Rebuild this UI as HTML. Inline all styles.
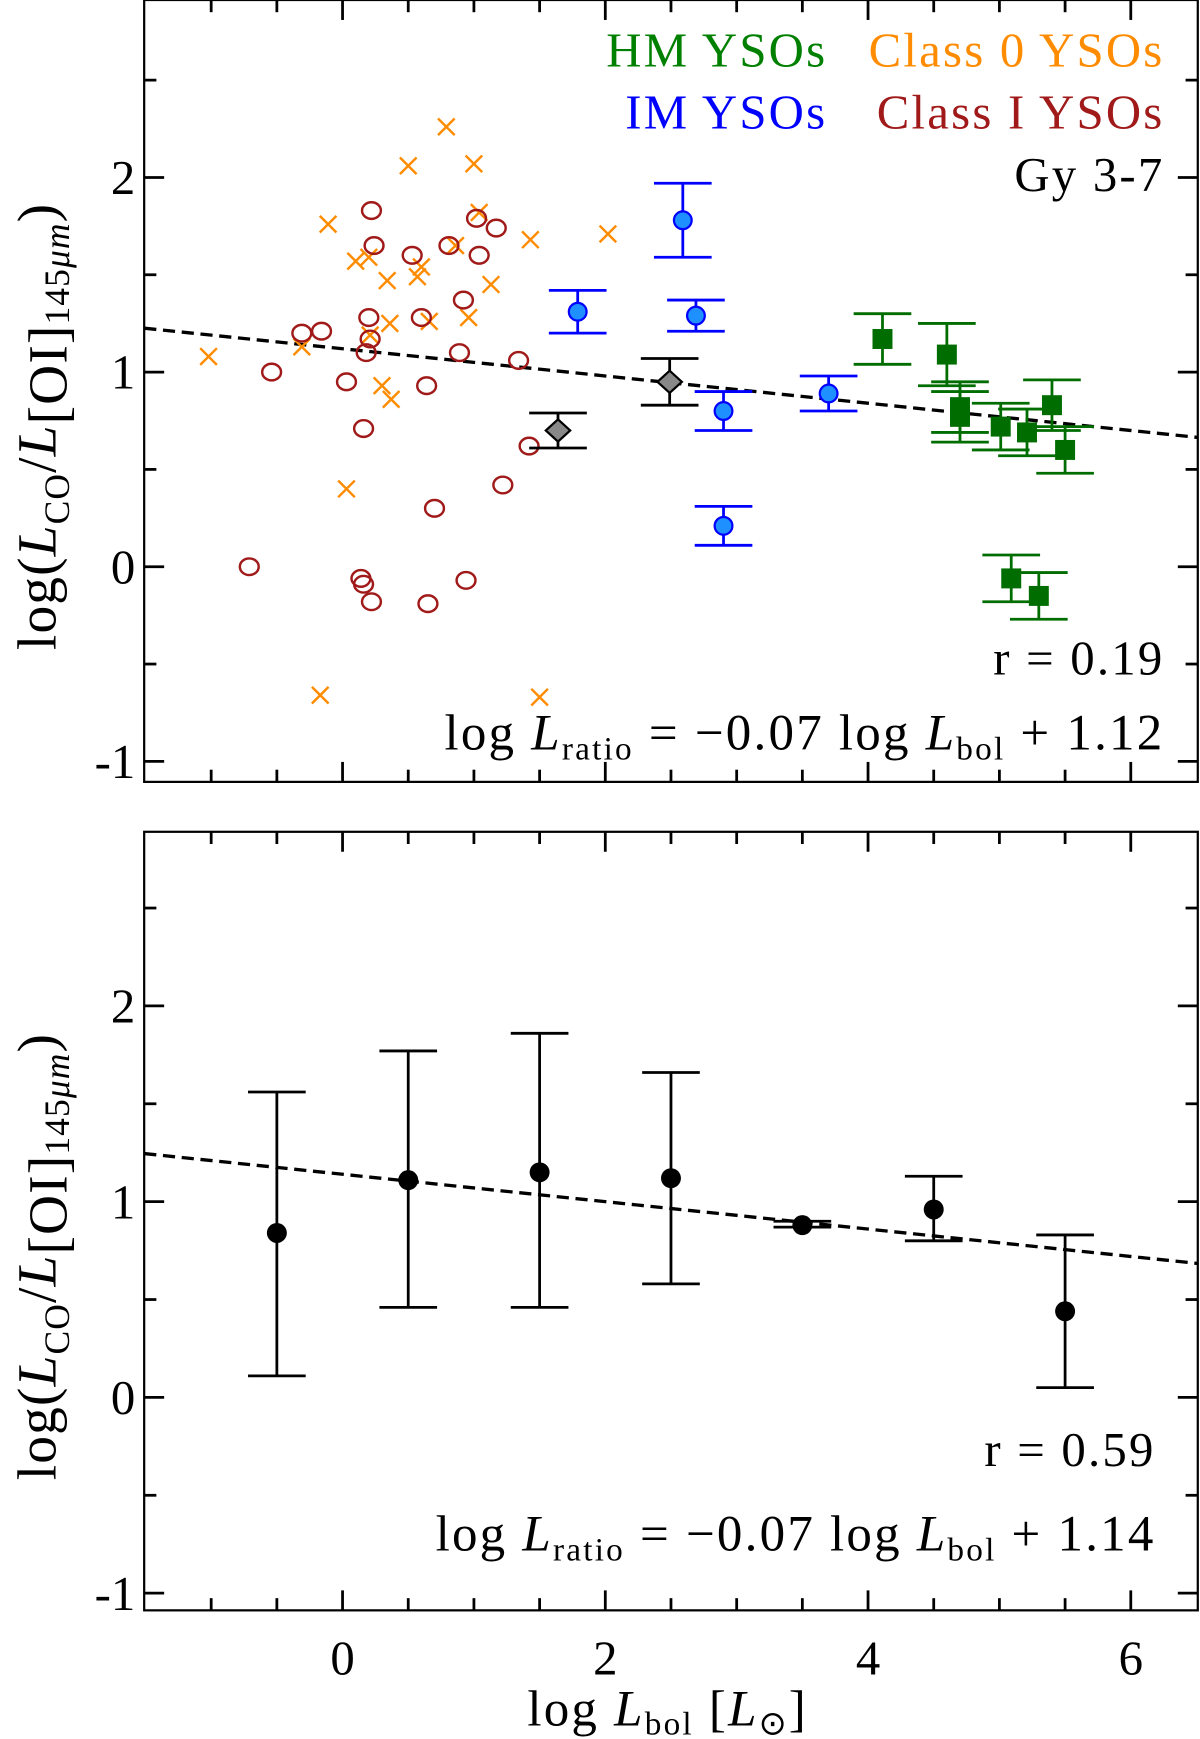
<!DOCTYPE html>
<html><head><meta charset="utf-8"><style>
html,body{margin:0;padding:0;background:#fff}
svg{display:block}
text{font-family:"Liberation Serif",serif}
</style></head><body>
<svg id="chart" xmlns="http://www.w3.org/2000/svg" width="1200" height="1739" viewBox="0 0 1082 1568">
<g id="top"></g>
<g id="bot"></g>
</svg>
<script>
// ---- data (top panel) ----
const class0X = [-1.02,-0.31,-0.11,0.03,-0.17,0.10,0.20,0.34,0.36,0.30,0.37,0.50,0.60,0.57,0.66,0.79,0.86,1.00,0.96,1.04,1.13,1.43,1.50,2.02,0.21];
const class0Y = [1.08,1.13,1.76,0.40,-0.66,1.57,1.59,1.47,1.25,0.93,0.86,2.06,1.54,1.49,1.26,2.26,1.65,2.07,1.28,1.82,1.45,1.68,-0.67,1.71,1.19];
const class1X = [-0.71,-0.54,-0.31,-0.16,0.03,0.14,0.16,0.22,0.16,0.18,0.20,0.21,0.22,0.24,0.53,0.60,0.64,0.70,0.81,0.89,0.92,0.94,0.65,1.02,1.04,1.17,1.22,1.34,1.42];
const class1Y = [0.00,1.00,1.20,1.21,0.95,-0.06,-0.09,-0.18,0.71,1.10,1.28,1.17,1.83,1.65,1.60,1.28,0.93,0.30,1.65,1.10,1.37,-0.07,-0.19,1.79,1.60,1.74,0.42,1.06,0.62];
const hmX = [4.11,4.60,4.70,4.70,5.01,5.21,5.40,5.50,5.09,5.30];
const hmY = [1.17,1.09,0.82,0.77,0.72,0.69,0.83,0.60,-0.06,-0.15];
const hmErr = [0.13,0.16,0.13,0.13,0.12,0.12,0.13,0.12,0.12,0.12];
const imX = [1.79,2.59,2.69,2.90,2.90,3.70];
const imY = [1.31,1.78,1.29,0.80,0.21,0.89];
const imErr = [0.11,0.19,0.08,0.10,0.10,0.09];
const gyX = [1.64,2.49];
const gyY = [0.70,0.95];
const gyErr = [0.09,0.12];
const fitTop = [-0.07, 1.12];
// ---- data (bottom panel) ----
const binX = [-0.5,0.5,1.5,2.5,3.5,4.5,5.5];
const binY = [0.84,1.11,1.15,1.12,0.88,0.96,0.44];
const binHi = [1.56,1.77,1.86,1.66,0.90,1.13,0.83];
const binLo = [0.11,0.46,0.46,0.58,0.87,0.80,0.05];
const fitBot = [-0.07, 1.14];
const xTicks = [0,2,4,6];
const yTicks = [-1,0,1,2];

const NS="http://www.w3.org/2000/svg";
function mk(parent,tag,attrs,name,txt){
  const e=document.createElementNS(NS,tag);
  for(const k in attrs)e.setAttribute(k,attrs[k]);
  
  
  if(txt!==undefined)e.textContent=txt;
  parent.appendChild(e);return e;
}
const X0=130,X1=1080,XMIN=-1.51,XMAX=6.51;
const sx=v=>X0+(v-XMIN)/(XMAX-XMIN)*(X1-X0);
const BIG={'font-size':44,'letter-spacing':'2'};
function A(o){return Object.assign({},BIG,o);}

function panel(g,top,bot,y2,y1,y0,ym1){
  const per=(y0-y2)/2;
  const sy=v=>y0-v*per;
  mk(g,'rect',{x:X0,y:top,width:X1-X0,height:bot-top,fill:'none',stroke:'#000','stroke-width':2},'plot-frame');
  for(let v=-1;v<=6.01;v+=0.5){
    const len=(Math.abs(v%2)<0.01)?18:11;
    mk(g,'line',{x1:sx(v),x2:sx(v),y1:bot,y2:bot-len,stroke:'#000','stroke-width':2.5},'x-tick');
    mk(g,'line',{x1:sx(v),x2:sx(v),y1:top,y2:top+len,stroke:'#000','stroke-width':2.5},'x-tick-top');
  }
  for(let v=-1;v<=2.51;v+=0.5){
    const len=(Math.abs(v-Math.round(v))<0.01)?18:11;
    const y=sy(v); if(y<top+2||y>bot-2)continue;
    mk(g,'line',{x1:X0,x2:X0+len,y1:y,y2:y,stroke:'#000','stroke-width':2.5},'y-tick');
    mk(g,'line',{x1:X1,x2:X1-len,y1:y,y2:y,stroke:'#000','stroke-width':2.5},'y-tick-right');
  }
  yTicks.forEach(v=>{
    mk(g,'text',{x:122,y:sy(v)+15,'font-size':44,'text-anchor':'end'},'y-tick-label',String(v));
  });
  const cy=(top+bot)/2+32;
  const t=mk(g,'text',{x:0,y:0,'font-size':50,'letter-spacing':'1','text-anchor':'middle',transform:`translate(50,${cy}) rotate(-90)`},'y-axis-title');
  t.innerHTML='log(<tspan font-style="italic">L</tspan><tspan font-size="32" dy="12">CO</tspan><tspan dy="-12">/</tspan><tspan font-style="italic">L</tspan><tspan dy="10">[OI]</tspan><tspan font-size="32" dy="2">145</tspan><tspan font-size="32" font-style="italic">μm</tspan><tspan dy="-12">)</tspan>';
  return sy;
}
function errbar(g,x,y,lo,hi,col,w,name){
  mk(g,'line',{x1:x,x2:x,y1:lo,y2:hi,stroke:col,'stroke-width':w},name+'-err');
  mk(g,'line',{x1:x-26,x2:x+26,y1:lo,y2:lo,stroke:col,'stroke-width':w},name+'-cap');
  mk(g,'line',{x1:x-26,x2:x+26,y1:hi,y2:hi,stroke:col,'stroke-width':w},name+'-cap');
}
function fitLine(g,sy,f){
  mk(g,'line',{x1:sx(XMIN),y1:sy(f[0]*XMIN+f[1]),x2:sx(XMAX),y2:sy(f[0]*XMAX+f[1]),stroke:'#000','stroke-width':3,'stroke-dasharray':'11,6'},'fit-line');
}
function eqText(g,x,y,f){
  const t=mk(g,'text',A({x:x,y:y,'text-anchor':'end','font-size':46}),'fit-equation');
  t.innerHTML='log <tspan font-style="italic">L</tspan><tspan font-size="30" dy="9">ratio</tspan><tspan dy="-9"> = −'+Math.abs(f[0]).toFixed(2)+' log </tspan><tspan font-style="italic">L</tspan><tspan font-size="30" dy="9">bol</tspan><tspan dy="-9"> + '+f[1].toFixed(2)+'</tspan>';
}

// top panel
const gt=document.getElementById('top');
const syT=panel(gt,0,705,160,336,511,687);
fitLine(gt,syT,fitTop);
class0X.forEach((x,i)=>{const px=sx(x),py=syT(class0Y[i]),d=7.5;
  mk(gt,'path',{d:`M${px-d},${py-d}L${px+d},${py+d}M${px-d},${py+d}L${px+d},${py-d}`,stroke:'#ff8c00','stroke-width':2.2,fill:'none'},'class0-point');});
class1X.forEach((x,i)=>{
  mk(gt,'ellipse',{cx:sx(x),cy:syT(class1Y[i]),rx:8.5,ry:7.5,stroke:'#a11a1a','stroke-width':2.2,fill:'none'},'class1-point');});
hmX.forEach((x,i)=>{const px=sx(x),py=syT(hmY[i]);
  errbar(gt,px,py,syT(hmY[i]-hmErr[i]),syT(hmY[i]+hmErr[i]),'#006d00',2.5,'hm');
  mk(gt,'rect',{x:px-9,y:py-9,width:18,height:18,fill:'#006d00'},'hm-point');});
imX.forEach((x,i)=>{const px=sx(x),py=syT(imY[i]);
  errbar(gt,px,py,syT(imY[i]-imErr[i]),syT(imY[i]+imErr[i]),'#0000ff',2.5,'im');
  mk(gt,'ellipse',{cx:px,cy:py,rx:8,ry:8,fill:'#1e90ff',stroke:'#0000ff','stroke-width':2},'im-point');});
gyX.forEach((x,i)=>{const px=sx(x),py=syT(gyY[i]);
  errbar(gt,px,py,syT(gyY[i]-gyErr[i]),syT(gyY[i]+gyErr[i]),'#000',2.5,'gy');
  mk(gt,'path',{d:`M${px-11},${py}L${px},${py-10}L${px+11},${py}L${px},${py+10}Z`,fill:'#888',stroke:'#000','stroke-width':2},'gy-point');});
mk(gt,'text',A({x:746,y:60,'text-anchor':'end',fill:'#008000'}),'legend-hm','HM YSOs');
mk(gt,'text',A({x:1050,y:60,'text-anchor':'end',fill:'#ff8c00'}),'legend-class0','Class 0 YSOs');
mk(gt,'text',A({x:746,y:116,'text-anchor':'end',fill:'#0000ff'}),'legend-im','IM YSOs');
mk(gt,'text',A({x:1050,y:116,'text-anchor':'end',fill:'#a11a1a'}),'legend-class1','Class I YSOs');
mk(gt,'text',A({x:1050,y:172,'text-anchor':'end',fill:'#000'}),'legend-gy','Gy 3-7');
mk(gt,'text',A({x:1050,y:608,'text-anchor':'end'}),'correlation-text','r = 0.19');
eqText(gt,1050,676,fitTop);

// bottom panel
const gb=document.getElementById('bot');
const syB=panel(gb,750,1452,907,1084,1260,1437);
fitLine(gb,syB,fitBot);
binX.forEach((x,i)=>{const px=sx(x);
  errbar(gb,px,syB(binY[i]),syB(binLo[i]),syB(binHi[i]),'#000',2.5,'bin');
  mk(gb,'ellipse',{cx:px,cy:syB(binY[i]),rx:9,ry:9,fill:'#000'},'bin-point');});
mk(gb,'text',A({x:1042,y:1322,'text-anchor':'end'}),'correlation-text','r = 0.59');
eqText(gb,1042,1398,fitBot);
xTicks.forEach(v=>mk(gb,'text',{x:sx(v),y:1510,'font-size':44,'text-anchor':'middle'},'x-tick-label',String(v)));
const xt=mk(gb,'text',A({x:602,y:1556,'text-anchor':'middle','font-size':46}),'x-axis-title');
xt.innerHTML='log <tspan font-style="italic">L</tspan><tspan font-size="30" dy="8">bol</tspan><tspan dy="-8"> [</tspan><tspan font-style="italic">L</tspan><tspan font-size="30" dy="8">⊙</tspan><tspan dy="-8">]</tspan>';
</script>
</body></html>
